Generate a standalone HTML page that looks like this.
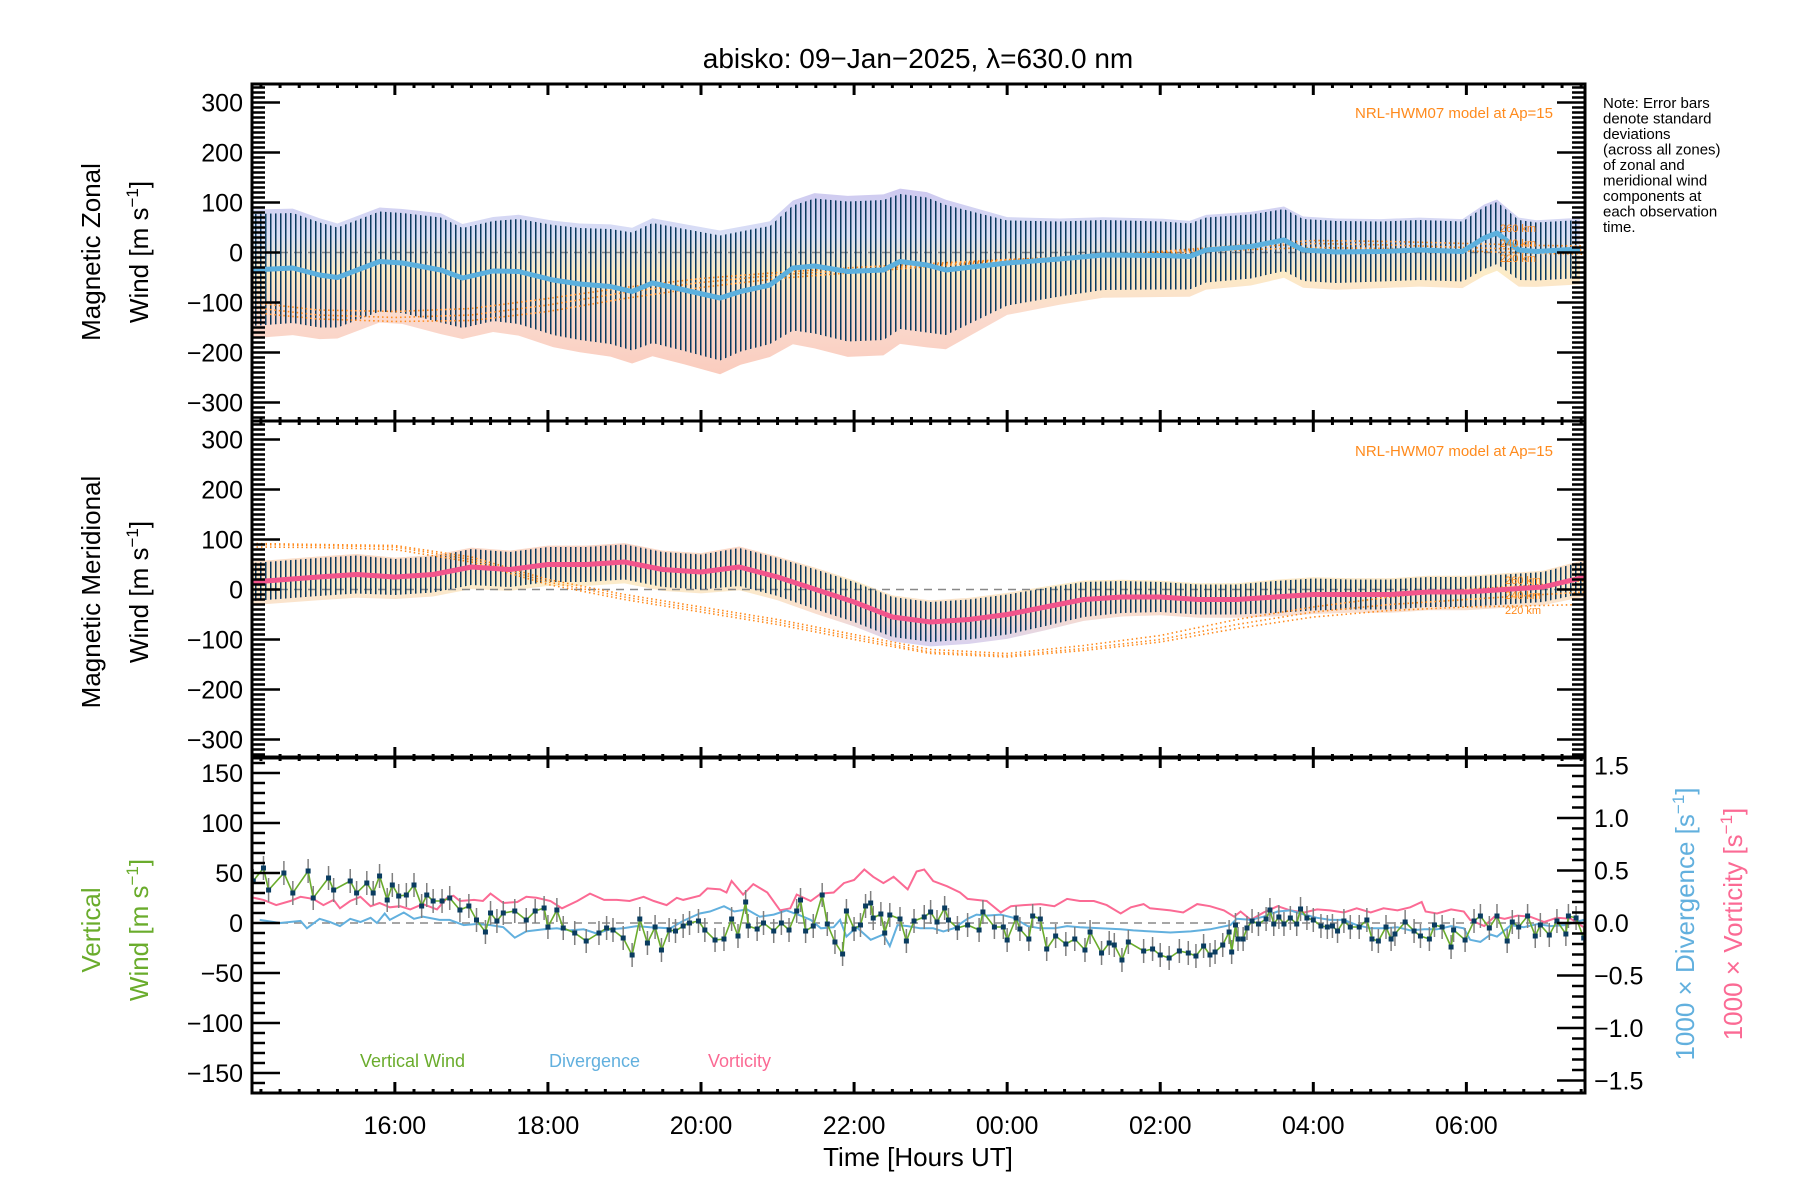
<!DOCTYPE html>
<html><head><meta charset="utf-8"><style>
html,body{margin:0;padding:0;background:#fff;}
svg{display:block;font-family:"Liberation Sans",sans-serif;}
</style></head><body>
<svg id="chart" xmlns="http://www.w3.org/2000/svg" width="1800" height="1200" viewBox="0 0 1800 1200">
<defs>
<pattern id="barsPat" width="5" height="10" patternUnits="userSpaceOnUse"><rect x="0" y="0" width="1.5" height="10" fill="#0b3a5e"/></pattern>
<linearGradient id="band1" x1="0" y1="0" x2="0" y2="1"><stop offset="0" stop-color="#bdb6ea"/><stop offset="0.25" stop-color="#cdd6f4"/><stop offset="0.45" stop-color="#fbe6b4"/><stop offset="0.7" stop-color="#f9cdbd"/><stop offset="1" stop-color="#f8bba8"/></linearGradient>
<linearGradient id="band2" x1="0" y1="0" x2="0" y2="1"><stop offset="0" stop-color="#f9c8b6"/><stop offset="0.4" stop-color="#fbe6b8"/><stop offset="0.7" stop-color="#f7d2c0"/><stop offset="1" stop-color="#c9c2ec"/></linearGradient>
<clipPath id="clip1"><rect x="252" y="84" width="1333" height="337"/></clipPath>
<clipPath id="clip2"><rect x="252" y="421" width="1333" height="337"/></clipPath>
<clipPath id="clip3"><rect x="252" y="757" width="1333" height="336"/></clipPath>
</defs>
<text x="918" y="68" font-size="28" text-anchor="middle">abisko: 09−Jan−2025, λ=630.0 nm</text>
<g font-size="15" fill="#000">
<text x="1603" y="108">Note: Error bars</text>
<text x="1603" y="123.5">denote standard</text>
<text x="1603" y="139">deviations</text>
<text x="1603" y="154.5">(across all zones)</text>
<text x="1603" y="170">of zonal and</text>
<text x="1603" y="185.5">meridional wind</text>
<text x="1603" y="201">components at</text>
<text x="1603" y="216.5">each observation</text>
<text x="1603" y="232">time.</text>
</g>
<g id="layer"></g>
</svg>
<script>
// ---------- data ----------
// time in minutes after 14:00 UT (09-Jan)
const p1Time = [8,40,61,75,108,126,156,173,197,217,244,265,289,306,322,347,375,391,414,432,449,475,503,516,537,552,600,641,675,722,743,756,791,817,832,858,893,923,957,974,984,1001,1015,1049];
const p1Mean = [-35,-31,-45,-50,-18,-21,-35,-51,-37,-38,-55,-63,-68,-78,-61,-75,-91,-78,-65,-31,-27,-38,-35,-18,-25,-35,-21,-13,-5,-6,-8,5,12,25,5,1,2,5,2,29,39,5,2,7];
const p1Sd = [112,110,105,100,100,100,105,100,100,105,110,112,115,118,120,122,125,120,118,125,135,140,140,135,135,130,85,75,70,68,66,65,64,62,62,62,60,60,60,62,62,60,58,58];

const p2Time = [8,60,90,120,150,180,210,240,270,300,330,360,390,420,450,480,510,540,570,600,630,660,690,720,750,780,810,840,870,900,930,960,990,1020,1053];
const p2Mean = [15,25,30,25,30,45,40,50,50,55,40,35,45,25,0,-25,-55,-65,-60,-50,-35,-20,-15,-15,-20,-20,-15,-10,-10,-10,-5,-5,0,5,25];
const p2Sd = [38,38,38,36,36,36,35,35,35,35,35,35,38,38,40,40,40,40,40,40,38,35,32,30,30,30,32,32,30,30,30,30,30,30,32];

const modTime = [8,60,120,180,240,300,360,420,480,540,600,660,720,780,840,900,960,1020,1053];
const m1_220 = [-100,-115,-118,-112,-92,-70,-52,-40,-30,-22,-14,-8,-2,5,10,8,3,-2,-3];
const m1_240 = [-110,-125,-130,-125,-105,-80,-60,-45,-35,-25,-15,-8,0,10,18,15,10,5,5];
const m1_260 = [-120,-133,-138,-136,-118,-92,-70,-52,-40,-28,-17,-8,2,14,24,22,18,14,13];
const m2_220 = [85,84,80,55,10,-20,-45,-70,-100,-128,-135,-122,-105,-78,-55,-42,-35,-32,-30];
const m2_240 = [90,88,85,60,15,-15,-40,-65,-95,-125,-132,-118,-100,-70,-45,-30,-20,-10,-5];
const m2_260 = [92,90,88,65,20,-10,-35,-60,-90,-120,-128,-112,-92,-60,-35,-15,0,10,18];

const wTime = [9,17,21,33,40,52,56,68,72,85,90,98,103,108,114,118,123,129,135,141,145,150,157,163,171,178,184,191,195,200,205,214,223,230,237,240,247,252,261,270,280,286,291,299,306,312,318,324,329,335,340,346,351,358,
363,371,378,384,389,395,397,404,409,417,423,429,435,438,442,448,455,459,465,471,474,480,485,489,493,495,501,504,508,516,521,527,535,540,545,551,554,561,569,578,581,590,597,600,607,610,617,620,626,631,638,646,653,661,665,674,680,684,690,695,707,
714,720,727,735,742,748,754,759,763,769,774,776,779,781,785,788,792,797,803,806,809,813,817,822,827,830,835,840,846,851,855,859,864,869,876,882,886,891,897,901,904,912,919,924,931,935,941,948,950,959,966,971,978,984,992,996,1001,1008,1014,1018,1025,1031,1038,1040,1046,1052];
const wVal = [42,55,33,50,30,52,25,45,33,42,30,40,30,47,23,38,27,28,38,17,28,22,22,25,13,17,3,-9,10,2,10,12,3,12,15,-4,13,-5,-10,-18,-10,-5,-7,-15,-32,4,-20,-4,-27,-7,-8,-3,0,2,
-7,-17,-16,4,-13,21,-3,-6,0,-8,0,-7,12,23,-8,-3,28,-1,-19,-31,12,-6,-2,17,20,5,9,-10,8,4,-18,2,6,11,1,15,3,-5,-2,-7,11,-4,-4,-17,5,-6,-16,7,4,-26,-13,-21,-16,-27,-9,-30,-20,-22,-37,-19,-28,
-26,-32,-35,-28,-30,-33,-23,-32,-29,-22,-9,-29,-2,-16,-16,-5,2,-1,4,13,-1,6,-1,5,-1,14,5,3,-3,-4,-3,-8,2,-4,-4,3,-16,-18,-4,-16,-11,1,-8,-13,-16,-2,-4,-24,-7,-17,2,7,-5,7,-18,1,-4,7,-13,-2,-12,2,-11,7,5,-15];
const wErr = 12;

const divTime = [14,30,46,51,61,69,77,85,93,101,106,112,116,127,135,142,155,163,174,184,195,205,214,223,237,247,257,268,278,289,299,310,320,336,346,359,
367,378,386,396,406,417,427,438,446,454,464,469,474,482,493,503,508,514,522,532,542,550,558,569,576,584,595,605,616,626,637,647,657,673,689,699,712,
728,744,759,775,780,791,801,812,822,833,843,853,864,874,885,895,906,916,927,937,948,958,963,971,979,984,995,1005,1016,1026,1037,1052];
const divVal = [.03,0,.02,-.05,.04,.01,-.03,.04,.01,.05,0,.09,.03,.10,.04,.06,.03,.03,-.02,-.01,-.02,-.04,-.14,-.08,-.06,-.05,-.07,-.06,-.10,-.06,-.05,-.03,-.04,-.05,.02,.09,
.11,.16,.11,.13,.06,.08,.12,.07,.03,-.05,-.04,.03,-.13,-.04,-.16,-.11,-.22,-.02,-.03,-.05,-.05,-.08,-.05,.04,.08,.07,.08,.05,-.03,-.05,-.05,-.03,-.04,-.05,-.06,-.07,-.08,
-.09,-.08,-.06,-.02,.04,.03,.06,.11,.12,.08,.05,.03,.03,-.02,-.05,-.05,-.04,-.07,-.06,-.06,-.03,-.05,-.16,-.18,-.11,-.13,-.02,-.04,-.01,-.03,-.02,.03];

const vorTime = [6,17,27,38,46,56,64,72,77,85,93,101,108,116,124,132,142,153,161,166,171,182,189,195,205,216,223,231,242,251,263,273,284,294,304,315,323,333,341,346,359,
365,375,380,384,393,401,412,422,430,435,446,454,464,472,480,488,495,503,511,522,529,535,542,553,563,569,576,584,595,603,613,626,637,647,657,668,678,689,697,707,
712,728,738,749,759,770,778,783,791,801,812,822,833,843,853,864,874,885,895,906,916,925,928,937,948,958,963,974,982,990,1000,1010,1021,1031,1042,1052];
const vorVal = [.25,.22,.17,.21,.25,.23,.17,.22,.14,.21,.25,.16,.19,.15,.16,.13,.18,.13,.24,.26,.21,.22,.21,.28,.19,.20,.25,.24,.21,.14,.21,.28,.22,.22,.21,.25,.21,.17,.24,.22,.26,
.33,.32,.29,.40,.27,.37,.29,.12,.14,.27,.21,.28,.29,.38,.41,.51,.44,.38,.44,.32,.49,.51,.40,.35,.29,.23,.22,.21,.10,.16,.17,.18,.16,.23,.21,.21,.17,.09,.15,.18,
.14,.12,.10,.18,.16,.12,.06,.11,.03,.10,.16,.12,.10,.13,.12,.10,.14,.10,.14,.12,.15,.20,.11,.09,.13,.11,.03,-.03,.06,.04,.07,.06,.01,.05,.04,-.04];

const xTickMin = [120,240,360,480,600,720,840,960];
const xTickLabels = ["16:00","18:00","20:00","22:00","00:00","02:00","04:00","06:00"];
const windTicks = [300,200,100,0,-100,-200,-300];
const windTickLabels = ["300","200","100","0","−100","−200","−300"];
const vertTicks = [150,100,50,0,-50,-100,-150];
const vertTickLabels = ["150","100","50","0","−50","−100","−150"];
const rightTicks = [1.5,1.0,0.5,0.0,-0.5,-1.0,-1.5];
const rightTickLabels = ["1.5","1.0","0.5","0.0","−0.5","−1.0","−1.5"];

// ---------- axes ----------
const X0 = 252, X1 = 1585, T0 = 8, T1 = 1053;
function xOf(m){ return X0 + (m - T0) * (X1 - X0) / (T1 - T0); }
const P1 = {top:84, bot:421, cy:252.5, k:0.5};
const P2 = {top:421, bot:758, cy:589.5, k:0.5};
const P3 = {top:757, bot:1093, cy:923, k:1};
const RK = 105;
function yOf(p, v){ return p.cy - v * p.k; }
function yR(v){ return P3.cy - v * RK; }

const NS = 'http://www.w3.org/2000/svg';
const layer = document.getElementById('layer');
function mk(tag, attrs, parent){
  const e = document.createElementNS(NS, tag);
  for (const k in attrs) e.setAttribute(k, attrs[k]);
  (parent || layer).appendChild(e);
  return e;
}
function ptsStr(xs, ys){ return xs.map((x,i)=>x.toFixed(1)+','+ys[i].toFixed(1)).join(' '); }

// ---------- horizontal wind panels ----------
function windPanel(p, time, mean, sd, grad, clip, lineColor, models, name){
  const g = mk('g', {'clip-path':'url(#'+clip+')'});
  
  
  const xs = time.map(xOf);
  const up = mean.map((m,i)=>yOf(p, m + sd[i]*1.08));
  const lo = mean.map((m,i)=>yOf(p, m - sd[i]*1.22));
  const band = mk('polygon', {points: ptsStr(xs, up) + ' ' + ptsStr(xs.slice().reverse(), lo.slice().reverse()), fill:'url(#'+grad+')', opacity:'0.75'}, g);
  
  
  const z = mk('line', {x1:X0, x2:X1, y1:yOf(p,0), y2:yOf(p,0), stroke:'#888', 'stroke-width':1.5, 'stroke-dasharray':'8 6'}, g);
  
  
  const eu = mean.map((m,i)=>yOf(p, m + sd[i]));
  const el = mean.map((m,i)=>yOf(p, m - sd[i]));
  const bars = mk('polygon', {points: ptsStr(xs, eu) + ' ' + ptsStr(xs.slice().reverse(), el.slice().reverse()), fill:'url(#barsPat)'}, g);
  
  
  models.forEach((md, j)=>{
    const ml = mk('polyline', {points: ptsStr(modTime.map(xOf), md.map(v=>yOf(p,v))), fill:'none', stroke:'#ff8a1c', 'stroke-width':1.6, 'stroke-dasharray':'1.5 3'}, g);
    
    
  });
  const ys = mean.map(v=>yOf(p,v));
  const ln = mk('polyline', {points: ptsStr(xs, ys), fill:'none', stroke:lineColor, 'stroke-width':5, 'stroke-linejoin':'round'}, g);
  
  
}
windPanel(P1, p1Time, p1Mean, p1Sd, 'band1', 'clip1', '#5cb0de', [m1_220, m1_240, m1_260], 'zonal');
windPanel(P2, p2Time, p2Mean, p2Sd, 'band2', 'clip2', '#f2558c', [m2_220, m2_240, m2_260], 'meridional');

// ---------- vertical wind panel ----------
(function(){
  const g = mk('g', {'clip-path':'url(#clip3)'});
  
  
  const z = mk('line', {x1:X0, x2:X1, y1:P3.cy, y2:P3.cy, stroke:'#888', 'stroke-width':1.5, 'stroke-dasharray':'8 6'}, g);
  
  
  const vor = mk('polyline', {points: ptsStr(vorTime.map(xOf), vorVal.map(yR)), fill:'none', stroke:'#fb6a94', 'stroke-width':2}, g);
  
  
  const dv = mk('polyline', {points: ptsStr(divTime.map(xOf), divVal.map(yR)), fill:'none', stroke:'#62b0de', 'stroke-width':2}, g);
  
  
  wTime.forEach((t,i)=>{
    const e = mk('line', {x1:xOf(t), x2:xOf(t), y1:yOf(P3, wVal[i]+wErr), y2:yOf(P3, wVal[i]-wErr), stroke:'#808080', 'stroke-width':1.5}, g);
    
    
  });
  const wl = mk('polyline', {points: ptsStr(wTime.map(xOf), wVal.map(v=>yOf(P3,v))), fill:'none', stroke:'#6aac2c', 'stroke-width':1.6}, g);
  
  
  wTime.forEach((t,i)=>{
    const m = mk('rect', {x:xOf(t)-2.5, y:yOf(P3,wVal[i])-2.5, width:5, height:5, fill:'#0a3c60'}, g);
    
    
  });
})();

// ---------- frames and ticks ----------
[P1,P2,P3].forEach((p, pi)=>{
  const fr = mk('rect', {x:X0, y:p.top, width:X1-X0, height:p.bot-p.top, fill:'none', stroke:'#000', 'stroke-width':3});
  
  
  for (let m = 15; m <= 1050; m += 15){
    const major = xTickMin.indexOf(m) >= 0;
    const L = major ? 11 : 4;
    const x = xOf(m);
    const t1 = mk('line', {x1:x, x2:x, y1:p.top, y2:p.top+L, stroke:'#000', 'stroke-width':3});
    
    
    const t2 = mk('line', {x1:x, x2:x, y1:p.bot, y2:p.bot-L, stroke:'#000', 'stroke-width':3});
    
    
  }
});
[P1,P2].forEach((p, pi)=>{
  for (let v = -330; v <= 330; v += 10){
    const major = v % 100 === 0;
    const L = major ? 28 : 13;
    const y = yOf(p, v);
    const a = mk('line', {x1:X0, x2:X0+L, y1:y, y2:y, stroke:'#000', 'stroke-width':2.5});
    
    
    const b = mk('line', {x1:X1, x2:X1-L, y1:y, y2:y, stroke:'#000', 'stroke-width':2.5});
    
    
  }
  windTicks.forEach((v,i)=>{
    const t = mk('text', {x:243, y:yOf(p,v)+9, 'font-size':25, 'text-anchor':'end'});
    t.textContent = windTickLabels[i];
    
    
  });
});
for (let v = -160; v <= 160; v += 10){
  const major = v % 50 === 0;
  const y = yOf(P3, v);
  const a = mk('line', {x1:X0, x2:X0+(major?28:13), y1:y, y2:y, stroke:'#000', 'stroke-width':2.5});
  
  
}
vertTicks.forEach((v,i)=>{
  const t = mk('text', {x:243, y:yOf(P3,v)+9, 'font-size':25, 'text-anchor':'end'});
  t.textContent = vertTickLabels[i];
  
  
});
for (let k = -15; k <= 15; k++){
  const v = k / 10;
  const major = k % 5 === 0;
  const y = yR(v);
  const a = mk('line', {x1:X1, x2:X1-(major?28:13), y1:y, y2:y, stroke:'#000', 'stroke-width':2.5});
  
  
}
rightTicks.forEach((v,i)=>{
  const t = mk('text', {x:1594, y:yR(v)+9, 'font-size':25, 'text-anchor':'start'});
  t.textContent = rightTickLabels[i];
  
  
});
xTickMin.forEach((m,i)=>{
  const t = mk('text', {x:xOf(m), y:1134, 'font-size':25, 'text-anchor':'middle'});
  t.textContent = xTickLabels[i];
  
  
});
</script>
<svg xmlns="http://www.w3.org/2000/svg" width="1800" height="1200" style="position:absolute;left:0;top:0;font-family:'Liberation Sans',sans-serif;pointer-events:none">
<text x="918" y="1166" font-size="26" text-anchor="middle">Time [Hours UT]</text>
<text transform="translate(100,252) rotate(-90)" font-size="26" text-anchor="middle">Magnetic Zonal</text>
<text transform="translate(148,252) rotate(-90)" font-size="26" text-anchor="middle">Wind [m s<tspan font-size="17" dy="-10">−1</tspan><tspan dy="10">]</tspan></text>
<text transform="translate(100,592) rotate(-90)" font-size="26" text-anchor="middle">Magnetic Meridional</text>
<text transform="translate(148,592) rotate(-90)" font-size="26" text-anchor="middle">Wind [m s<tspan font-size="17" dy="-10">−1</tspan><tspan dy="10">]</tspan></text>
<text transform="translate(100,930) rotate(-90)" font-size="26" text-anchor="middle" fill="#6aac2c">Vertical</text>
<text transform="translate(148,930) rotate(-90)" font-size="26" text-anchor="middle" fill="#6aac2c">Wind [m s<tspan font-size="17" dy="-10">−1</tspan><tspan dy="10">]</tspan></text>
<text transform="translate(1694,924) rotate(-90)" font-size="26" text-anchor="middle" fill="#62b0de">1000 × Divergence [s<tspan font-size="17" dy="-10">−1</tspan><tspan dy="10">]</tspan></text>
<text transform="translate(1742,924) rotate(-90)" font-size="26" text-anchor="middle" fill="#fb6a94">1000 × Vorticity [s<tspan font-size="17" dy="-10">−1</tspan><tspan dy="10">]</tspan></text>
<text x="1553" y="118" font-size="15" text-anchor="end" fill="#ff8a1c">NRL-HWM07 model at Ap=15</text>
<text x="1553" y="456" font-size="15" text-anchor="end" fill="#ff8a1c">NRL-HWM07 model at Ap=15</text>
<g font-size="11" fill="#ff8a1c"><text x="1500" y="232">260 km</text><text x="1500" y="247">240 km</text><text x="1500" y="262">220 km</text></g>
<g font-size="11" fill="#ff8a1c"><text x="1505" y="584">260 km</text><text x="1505" y="599">240 km</text><text x="1505" y="614">220 km</text></g>
<text x="360" y="1067" font-size="18" fill="#6aac2c">Vertical Wind</text>
<text x="549" y="1067" font-size="18" fill="#62b0de">Divergence</text>
<text x="708" y="1067" font-size="18" fill="#fb6a94">Vorticity</text>
</svg>
</body></html>
